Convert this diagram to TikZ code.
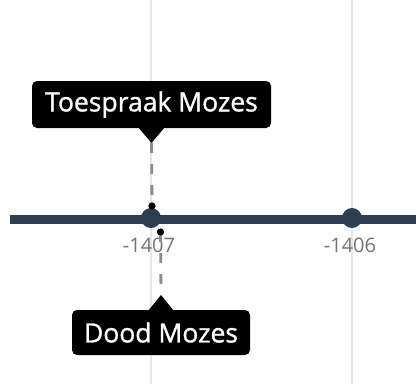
\documentclass[tikz,border=0pt]{standalone}
\usepackage{fontspec}
\setmainfont{Open Sans}
\newfontfamily\calloutfont[FakeBold=1.2]{Open Sans}
\definecolor{axisblue}{HTML}{2C3E50}
\definecolor{gridgray}{HTML}{E6E6E6}
\definecolor{tickgray}{HTML}{737373}
\definecolor{dashgray}{HTML}{8C8C8C}
\tikzset{
  gridline/.style={draw=gridgray, line width=1.2pt},
  axisline/.style={draw=axisblue, line width=9pt},
  bigdot/.style={circle, fill=axisblue, minimum size=20pt, inner sep=0pt},
  enddot/.style={circle, fill=black, minimum size=7pt, inner sep=0pt},
  ticklabel/.style={text=tickgray, font=\fontsize{20}{22}\selectfont, inner sep=0pt},
  callout/.style={fill=black, rounded corners=5pt, text=white, inner sep=0pt,
    font=\calloutfont\fontsize{26.5}{28}\selectfont},
  pointer/.style={fill=black},
  connector/.style={draw=dashgray, line width=2.8pt, dash pattern=on 10pt off 11pt},
}
\begin{document}
\begin{tikzpicture}[x=1pt,y=-1pt]
\useasboundingbox (0,0) rectangle (416,384);
% grid
\coordinate (g1t) at (151,0); \coordinate (g1b) at (151,384);
\coordinate (g2t) at (352,0); \coordinate (g2b) at (352,384);
\draw[gridline] (g1t) -- (g1b);
\draw[gridline] (g2t) -- (g2b);
% axis
\coordinate (axl) at (10,219); \coordinate (axr) at (416,219);
\draw[axisline] (axl) -- (axr);
\node[bigdot] (d1) at (151,218) {};
\node[bigdot] (d2) at (352,218) {};
\node[ticklabel] (l1) at (149,245) {-1407};
\node[ticklabel] (l2) at (350,245) {-1406};
% top callout
\node[callout, minimum width=239pt, minimum height=47pt] (c1) at (151.5,104.5) {Toespraak Mozes};
\coordinate (c1a) at (138,127); \coordinate (c1b) at (165,127); \coordinate (c1tip) at (151.5,143);
\fill[pointer] (c1a) -- (c1b) -- (c1tip) -- cycle;
\node[enddot] (p1) at (152,206) {};
\draw[connector] (c1tip) -- (p1.center);
\node[enddot] (p1b) at (152,206) {};
% bottom callout
\node[callout, minimum width=178pt, minimum height=45pt] (c2) at (161,332.5) {Dood Mozes};
\coordinate (c2a) at (148,311); \coordinate (c2b) at (174,311); \coordinate (c2tip) at (161,295);
\fill[pointer] (c2a) -- (c2b) -- (c2tip) -- cycle;
\node[enddot] (p2) at (160.5,232) {};
\draw[connector] (p2.center) -- (c2tip);
\node[enddot] (p2b) at (160.5,232) {};
\end{tikzpicture}
\end{document}
